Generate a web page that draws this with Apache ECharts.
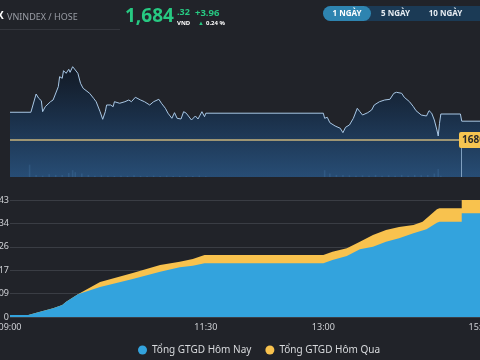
<!DOCTYPE html>
<html><head><meta charset="utf-8">
<script src="https://cdn.jsdelivr.net/npm/echarts@6/dist/echarts.min.js"></script>
<style>html,body{margin:0;padding:0;background:#212329;}#c{width:480px;height:360px;}</style>
</head><body><div id="c"></div>
<script>
// ---------- DATA ----------
const prevClose = 1680.36;
const lastPrice = 1684.32;
const priceTimes = ["09:00","09:16","09:17","09:20","09:22","09:23","09:24","09:25","09:27","09:31","09:33","09:34","09:37","09:38","09:40","09:41","09:43","09:45","09:46","09:48","09:50","09:52","09:54","09:56","09:57","10:01","10:04","10:06","10:09","10:11","10:13","10:14","10:17","10:19","10:20","10:24","10:28","10:31","10:33","10:36","10:40","10:43","10:47","10:50","10:54","10:56","10:59","11:01","11:04","11:06","11:08","11:11","11:13","11:15","11:19","11:22","11:24","11:27","11:29","11:30","13:00","13:01","13:03","13:05","13:09","13:13","13:15","13:17","13:20","13:23","13:26","13:28","13:30","13:34","13:37","13:39","13:43","13:47","13:51","13:54","13:56","14:00","14:02","14:06","14:09","14:11","14:15","14:19","14:21","14:23","14:25","14:27","14:28","14:29","14:30","14:45","14:46","15:00"];
const priceValues = [1686.2,1686.2,1685.8,1690.04,1689.14,1689.35,1688.63,1686.32,1687.37,1688.42,1688.78,1688.42,1691.58,1693.69,1693.35,1694.95,1694.40,1695.24,1694.61,1695.79,1695.10,1694.40,1692.30,1691.24,1690.89,1690.19,1689.14,1688.42,1686.32,1684.72,1686.32,1687.73,1687.73,1687.37,1688.42,1688.09,1688.42,1688.78,1688.42,1689.35,1688.78,1688.42,1687.73,1688.42,1688.93,1688.09,1687.03,1686.0,1684.93,1686.11,1684.93,1684.78,1686.32,1686.0,1684.57,1685.41,1684.78,1686.32,1685.27,1686.0,1686.0,1684.93,1685.14,1684.0,1683.31,1682.82,1681.90,1683.03,1683.52,1684.93,1687.03,1686.32,1685.62,1686.11,1686.68,1687.73,1688.42,1688.78,1688.93,1690.19,1690.40,1690.19,1689.35,1688.42,1687.37,1686.53,1685.62,1685.41,1686.53,1686.0,1684.57,1682.47,1681.20,1683.88,1685.83,1685.83,1684.32,1684.32];
const volTimes = ["09:15","09:20","09:25","09:30","09:35","09:40","09:45","09:48","09:50","09:55","10:00","10:05","10:10","10:15","10:20","10:25","10:30","10:35","10:40","10:45","10:50","10:55","11:00","11:05","11:10","11:15","11:20","11:25","11:30","13:01","13:05","13:10","13:15","13:20","13:25","13:30","13:35","13:40","13:45","13:50","13:55","14:00","14:05","14:10","14:15","14:20","14:25","14:28","14:30"];
const volValues = [9,1.5,1,2,1.5,1.5,3,5,3.5,2.5,1.5,1,1.2,1,0.8,1,0.8,1.2,0.8,0.7,1,0.8,1,0.7,0.8,0.7,0.8,1,0.5,5,2.5,1.5,1.5,1.2,1,1.2,1,1.5,1,1.2,1,1.5,1,1.5,1.2,1.5,2.5,5.8,1];

const todayTimes = ["09:00","09:14","09:23","09:33","09:40","09:43","09:52","10:09","10:34","10:55","11:10","11:20","11:29","13:00","13:07","13:18","13:28","13:38","13:48","13:58","14:09","14:19","14:27","14:29","14:46","14:46","15:00"];
const todayValues = [700,700,1950,3200,4400,5630,8350,11040,13980,16670,18280,18870,19760,19760,20970,22440,24910,25860,27700,28950,30790,32260,34690,35060,35060,38150,38150];
const yestTimes = ["09:00","09:14","09:23","09:33","09:40","09:43","09:52","10:09","10:34","10:55","11:10","11:20","11:29","13:00","13:07","13:18","13:28","13:38","13:48","13:58","14:09","14:16","14:27","14:29","14:46","14:46","15:00"];
const yestValues = [700,700,1950,3200,4400,5630,8350,12880,16190,19130,20350,21340,22810,22810,24020,25270,27700,30170,32010,33110,33850,35060,39620,39990,39990,43043,43043];

const valueTicksMax = 43043;
const valueTickStep = 8608.6;
const timeLabels = {0:"09:00",150:"11:30",240:"13:00",360:"15:00"};
const legendNames = ["Tổng GTGD Hôm Nay","Tổng GTGD Hôm Qua"];

// ---------- helpers ----------
function toMin(t){const p=t.split(":");return (+p[0])*60+(+p[1])-540;}
function pairs(ts,vs){return ts.map((t,i)=>[toMin(t),vs[i]]);}
const lastMin = toMin("14:46")-0.4;

const chart = echarts.init(document.getElementById('c'),null,{renderer:'canvas'});
const FONT = "'Noto Sans', 'Open Sans', sans-serif";
const green = '#27c982';

const option = {
  backgroundColor:'#212329',
  animation:false,
  textStyle:{fontFamily:FONT},
  grid:[
    {left:10,right:0,top:40,height:137,outerBoundsMode:'none',containLabel:false},
    {left:10,right:0,top:200,height:117,outerBoundsMode:'none',containLabel:false}
  ],
  xAxis:[
    {type:'value',gridIndex:0,min:0,max:360,show:false},
    {type:'value',gridIndex:1,min:0,max:360,interval:30,
      axisLine:{show:false},axisTick:{show:false},splitLine:{show:false},
      axisLabel:{color:'#d0d2d6',fontSize:9,margin:6,showMinLabel:true,showMaxLabel:true,hideOverlap:false,
        formatter:v=>timeLabels[v]||''}}
  ],
  yAxis:[
    {type:'value',gridIndex:0,min:1672.57,max:1701.41,show:false},
    {type:'value',gridIndex:0,min:0,max:100,show:false},
    {type:'value',gridIndex:1,min:0,max:valueTicksMax,interval:valueTickStep,
      axisLine:{show:false},axisTick:{show:false},
      splitLine:{lineStyle:{color:'#3a3d44',width:1}},
      axisLabel:{color:'#d0d2d6',fontSize:9,margin:1,
        formatter:v=>Math.round(v).toLocaleString('en-US')}}
  ],
  legend:{
    data:legendNames,left:133,top:340,icon:'circle',itemWidth:9,itemHeight:9,itemGap:14,
    textStyle:{color:'#d8dadd',fontSize:10,fontFamily:FONT}
  },
  graphic:[
    {type:'text',left:-3,top:11,style:{text:'X',fill:'#ffffff',font:'bold 10px '+FONT}},
    {type:'text',left:7,top:13,style:{text:'VNINDEX / HOSE',fill:'#9a9da5',font:'9px '+FONT}},
    {type:'line',shape:{x1:0,y1:29.5,x2:120,y2:29.5},style:{stroke:'#34363d',lineWidth:1}},
    {type:'text',left:125,top:7,style:{text:'1,684',fill:green,font:'bold 19px '+FONT}},
    {type:'text',left:177,top:8,style:{text:'.32',fill:green,font:'bold 9px '+FONT}},
    {type:'text',left:177,top:20,style:{text:'VND',fill:'#ffffff',font:'bold 6px '+FONT}},
    {type:'text',left:195,top:8,style:{text:'+3.96',fill:green,font:'bold 9.5px '+FONT}},
    {type:'text',left:198,top:20,style:{text:'▲',fill:green,font:'6px '+FONT}},
    {type:'text',left:206,top:20,style:{text:'0.24 %',fill:'#ffffff',font:'bold 6px '+FONT}},
    {type:'rect',shape:{x:323,y:6,width:175,height:15,r:7.5},style:{fill:'#1b3a55'}},
    {type:'rect',shape:{x:323,y:6,width:48,height:15,r:7.5},style:{fill:'#2e84b0'}},
    {type:'text',x:347,y:13.5,style:{text:'1 NGÀY',fill:'#ffffff',font:'bold 8px '+FONT,align:'center',verticalAlign:'middle'}},
    {type:'text',x:395.5,y:13.5,style:{text:'5 NGÀY',fill:'#e6ecf2',font:'bold 8px '+FONT,align:'center',verticalAlign:'middle'}},
    {type:'text',x:445.5,y:13.5,style:{text:'10 NGÀY',fill:'#e6ecf2',font:'bold 8px '+FONT,align:'center',verticalAlign:'middle'}}
  ],
  series:[
    {
      name:'VNINDEX',type:'line',xAxisIndex:0,yAxisIndex:0,symbol:'none',
      data:pairs(priceTimes,priceValues),
      lineStyle:{color:'#a9c8e6',width:1},
      areaStyle:{origin:'start',color:new echarts.graphic.LinearGradient(0,0,0,1,[
        {offset:0,color:'#0c1522'},{offset:0.45,color:'#173455'},{offset:1,color:'#2a5f95'}])},
      markLine:{
        silent:true,symbol:['none','none'],
        data:[
          {yAxis:prevClose,lineStyle:{color:'#c9b47c',width:1.5,type:'solid'},
            label:{show:true,position:'end',distance:5,offset:[-26,0],formatter:()=>prevClose.toFixed(2),
              backgroundColor:'#f6c551',color:'#2a2a2a',fontSize:10,fontWeight:'bold',padding:[3,3],borderRadius:2}},
          [{coord:[lastMin,1672.57],lineStyle:{color:'#7f9fbf',width:1,type:'solid'},label:{show:false}},
           {coord:[lastMin,prevClose-1.7]}]
        ]
      }
    },
    {
      name:'KL',type:'bar',xAxisIndex:0,yAxisIndex:1,barWidth:1.5,
      data:pairs(volTimes,volValues),
      itemStyle:{color:'rgba(140,185,230,0.3)'}
    },
    {
      name:legendNames[1],type:'line',xAxisIndex:1,yAxisIndex:2,symbol:'none',
      data:pairs(yestTimes,yestValues),
      itemStyle:{color:'#f8c24e'},lineStyle:{width:0},
      areaStyle:{color:'#f8c24e',opacity:1}
    },
    {
      name:legendNames[0],type:'line',xAxisIndex:1,yAxisIndex:2,symbol:'none',
      data:pairs(todayTimes,todayValues),
      itemStyle:{color:'#33a3dd'},lineStyle:{width:0},
      areaStyle:{color:'#33a3dd',opacity:1}
    }
  ]
};
chart.setOption(option);
</script>
</body></html>
